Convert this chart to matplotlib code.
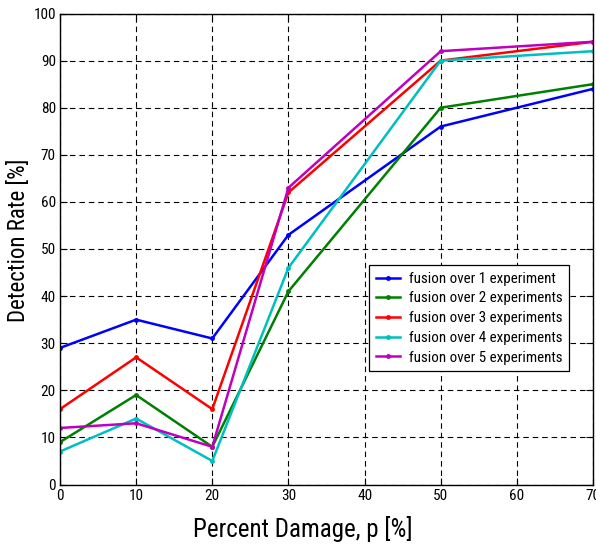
import matplotlib
matplotlib.use("Agg")
import matplotlib.pyplot as plt
from matplotlib import font_manager

names = {f.name for f in font_manager.fontManager.ttflist}
prefs = ['Liberation Sans Narrow', 'Arial Narrow', 'Nimbus Sans Narrow',
         'Roboto Condensed', 'Archivo Narrow', 'Liberation Sans']
fam = [n for n in prefs if n in names][:1] or ['DejaVu Sans']
plt.rcParams['font.family'] = fam + ['DejaVu Sans']

damage = [0, 10, 20, 30, 50, 70]
fusion1 = [29, 35, 31, 53, 76, 84]
fusion2 = [9, 19, 8, 41, 80, 85]
fusion3 = [16, 27, 16, 62, 90, 94]
fusion4 = [7, 14, 5, 46, 90, 92]
fusion5 = [12, 13, 8, 63, 92, 94]
labels = ['fusion over 1 experiment', 'fusion over 2 experiments',
          'fusion over 3 experiments', 'fusion over 4 experiments',
          'fusion over 5 experiments']
colors = ['#0000ff', '#008000', '#ff0000', '#00bfbf', '#bf00bf']

fig = plt.figure(figsize=(5.96, 5.44), dpi=100)
ax = fig.add_axes([60/596, 1-484.5/544, 533/596, 471/544])

for ys, lab, c in zip([fusion1, fusion2, fusion3, fusion4, fusion5], labels, colors):
    ax.plot(damage, ys, color=c, lw=1.8, marker='.', ms=5, label=lab)

ax.set_xlim(0, 70)
ax.set_ylim(0, 100)
ax.set_xticks(range(0, 71, 10))
ax.set_yticks(range(0, 101, 10))
ax.grid(True, color='black', linestyle=(0, (5, 3.5)), linewidth=0.8)
ax.tick_params(direction='in', top=True, right=True, length=5, width=0.8,
               labelsize=11, pad=3)
for s in ax.spines.values():
    s.set_linewidth(1.0)
ax.set_xlabel('Percent Damage, p [%]', fontsize=18)
ax.set_ylabel('Detection Rate [%]', fontsize=16.5)
ax.xaxis.set_label_coords((303-60)/533, (484.5-516)/471)
ax.yaxis.set_label_coords((30-60)/533, (484.5-240)/471)

leg = ax.legend(loc='upper left', bbox_to_anchor=((369-60)/533, (484.5-265)/471),
                fontsize=10.8, frameon=True, fancybox=False, edgecolor='black',
                framealpha=1, borderpad=0.45, labelspacing=0.38, handlelength=1.6,
                handletextpad=0.6, borderaxespad=0)
leg.get_frame().set_linewidth(0.9)

fig.savefig('out.png', dpi=100)
